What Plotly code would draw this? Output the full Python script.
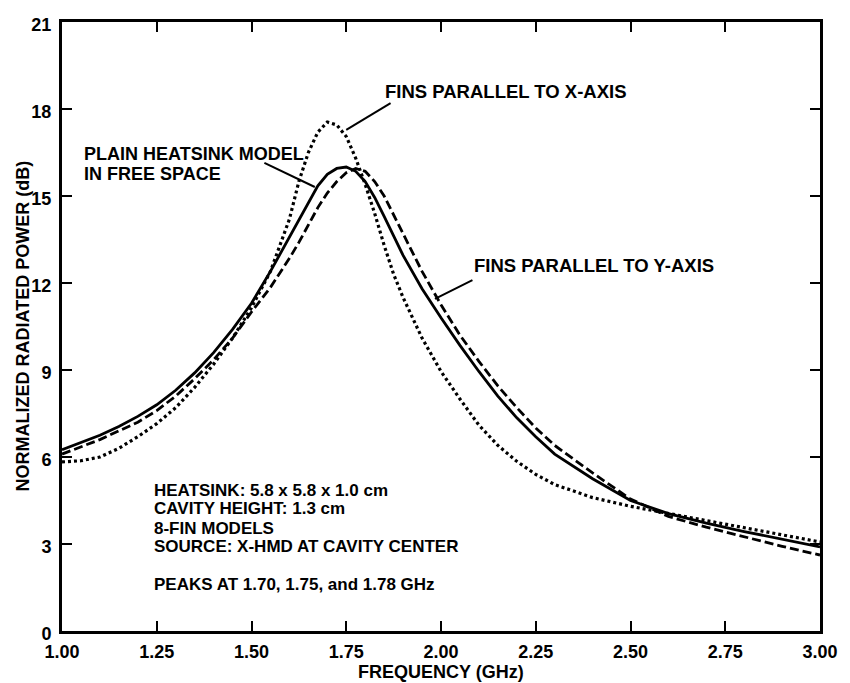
import plotly.graph_objects as go

# Frequency samples (GHz)
freq = [1.00, 1.05, 1.10, 1.15, 1.20, 1.25, 1.30, 1.35, 1.40, 1.45,
        1.50, 1.55, 1.60, 1.625, 1.65, 1.675, 1.70, 1.725, 1.75, 1.775,
        1.80, 1.825, 1.85, 1.875, 1.90, 1.95, 2.00, 2.05, 2.10, 2.15,
        2.20, 2.25, 2.30, 2.40, 2.50, 2.60, 2.70, 2.80, 2.90, 3.00]

# Normalized radiated power (dB)
plain_free_space = [6.25, 6.5, 6.75, 7.05, 7.4, 7.8, 8.3, 8.9, 9.6, 10.4,
                    11.3, 12.4, 13.6, 14.2, 14.8, 15.35, 15.75, 15.95, 16.0, 15.85,
                    15.5, 14.95, 14.3, 13.6, 12.95, 11.8, 10.8, 9.85, 8.95, 8.1,
                    7.35, 6.7, 6.1, 5.25, 4.5, 4.05, 3.72, 3.43, 3.16, 2.9]

fins_parallel_y = [6.1, 6.35, 6.6, 6.9, 7.2, 7.6, 8.1, 8.7, 9.35, 10.1,
                   11.0, 11.85, 12.85, 13.4, 14.0, 14.6, 15.1, 15.5, 15.8, 15.95,
                   15.85, 15.5, 15.0, 14.35, 13.7, 12.4, 11.25, 10.2, 9.3, 8.45,
                   7.7, 7.0, 6.4, 5.45, 4.55, 3.95, 3.58, 3.24, 2.92, 2.62]

fins_parallel_x = [5.83, 5.87, 6.0, 6.3, 6.7, 7.15, 7.7, 8.4, 9.2, 10.1,
                   11.15, 12.4, 14.2, 15.5, 16.5, 17.2, 17.55, 17.45, 17.05, 16.3,
                   15.4, 14.4, 13.3, 12.3, 11.5, 10.1, 8.95, 8.0, 7.1, 6.4,
                   5.85, 5.4, 5.05, 4.6, 4.3, 4.05, 3.82, 3.56, 3.31, 3.07]

x_ticks = [1.00, 1.25, 1.50, 1.75, 2.00, 2.25, 2.50, 2.75, 3.00]
x_tick_text = ["1.00", "1.25", "1.50", "1.75", "2.00", "2.25", "2.50", "2.75", "3.00"]
y_ticks = [0, 3, 6, 9, 12, 15, 18, 21]

info_lines = ["HEATSINK: 5.8 x 5.8 x 1.0 cm",
              "CAVITY HEIGHT: 1.3 cm",
              "8-FIN MODELS",
              "SOURCE: X-HMD AT CAVITY CENTER"]
peaks_line = "PEAKS AT 1.70, 1.75, and 1.78 GHz"

FONT = "Liberation Sans, Arial, Helvetica, sans-serif"
TICK_FS = 18
TEXT_FS = 18.5
BLOCK_FS = 17

fig = go.Figure()
fig.add_trace(go.Scatter(x=freq, y=fins_parallel_x, mode="lines",
                         line=dict(color="black", width=3.2, dash="3px,3px"),
                         name="Fins parallel to X-axis"))
fig.add_trace(go.Scatter(x=freq, y=fins_parallel_y, mode="lines",
                         line=dict(color="black", width=2.8, dash="9px,4px"),
                         name="Fins parallel to Y-axis"))
fig.add_trace(go.Scatter(x=freq, y=plain_free_space, mode="lines",
                         line=dict(color="black", width=2.8),
                         name="Plain heatsink in free space"))

axis_common = dict(
    showline=True, linecolor="black", linewidth=3, mirror="ticks",
    ticks="inside", ticklen=10, tickwidth=2, tickcolor="black",
    showgrid=False, zeroline=False,
    tickfont=dict(family=FONT, size=TICK_FS, color="black", weight="bold"),
)

fig.update_xaxes(range=[1.0, 3.0], tickvals=x_ticks, ticktext=x_tick_text,
                 ticklabelstandoff=2, **axis_common)
fig.update_yaxes(range=[0, 21], tickvals=y_ticks, ticklabelstandoff=4,
                 ticklabelshift=3, **axis_common)

annotations = []


def label(x, y, text, size=TEXT_FS):
    annotations.append(dict(x=x, y=y, xref="x", yref="y", text=text,
                            showarrow=False, xanchor="left", yanchor="middle",
                            font=dict(family=FONT, size=size, color="black",
                                      weight="bold")))


label(1.846, 18.62, "FINS PARALLEL TO X-AXIS")
label(1.052, 16.45, "PLAIN HEATSINK MODEL", 18)
label(1.052, 15.76, "IN FREE SPACE", 18)
label(2.081, 12.59, "FINS PARALLEL TO Y-AXIS")
for txt, yv in zip(info_lines, [4.86, 4.21, 3.55, 2.90]):
    label(1.237, yv, txt, BLOCK_FS)
label(1.237, 1.59, peaks_line, BLOCK_FS)

# Axis titles
title_font = dict(family=FONT, size=TICK_FS, color="black", weight="bold")
annotations.append(dict(x=0.5, y=0, xref="paper", yref="paper",
                        text="FREQUENCY (GHz)", showarrow=False,
                        xanchor="center", yanchor="middle", yshift=-41,
                        font=title_font))
annotations.append(dict(x=0, y=0.5, xref="paper", yref="paper",
                        text="NORMALIZED RADIATED POWER (dB)", showarrow=False,
                        xanchor="center", yanchor="middle", xshift=-40,
                        textangle=-90, font=title_font))

# Leader lines from labels to curves
leaders = [
    ((1.534, 16.14), (1.667, 15.31)),
    ((1.867, 18.20), (1.750, 17.28)),
    ((2.083, 12.10), (1.984, 11.45)),
]
shapes = [dict(type="line", xref="x", yref="y", x0=a[0], y0=a[1],
               x1=b[0], y1=b[1], line=dict(color="black", width=2))
          for a, b in leaders]

fig.update_layout(
    width=850, height=683,
    margin=dict(l=62, r=20, t=22, b=52),
    paper_bgcolor="white", plot_bgcolor="white",
    showlegend=False,
    annotations=annotations,
    shapes=shapes,
)

fig.write_html("out.html")
